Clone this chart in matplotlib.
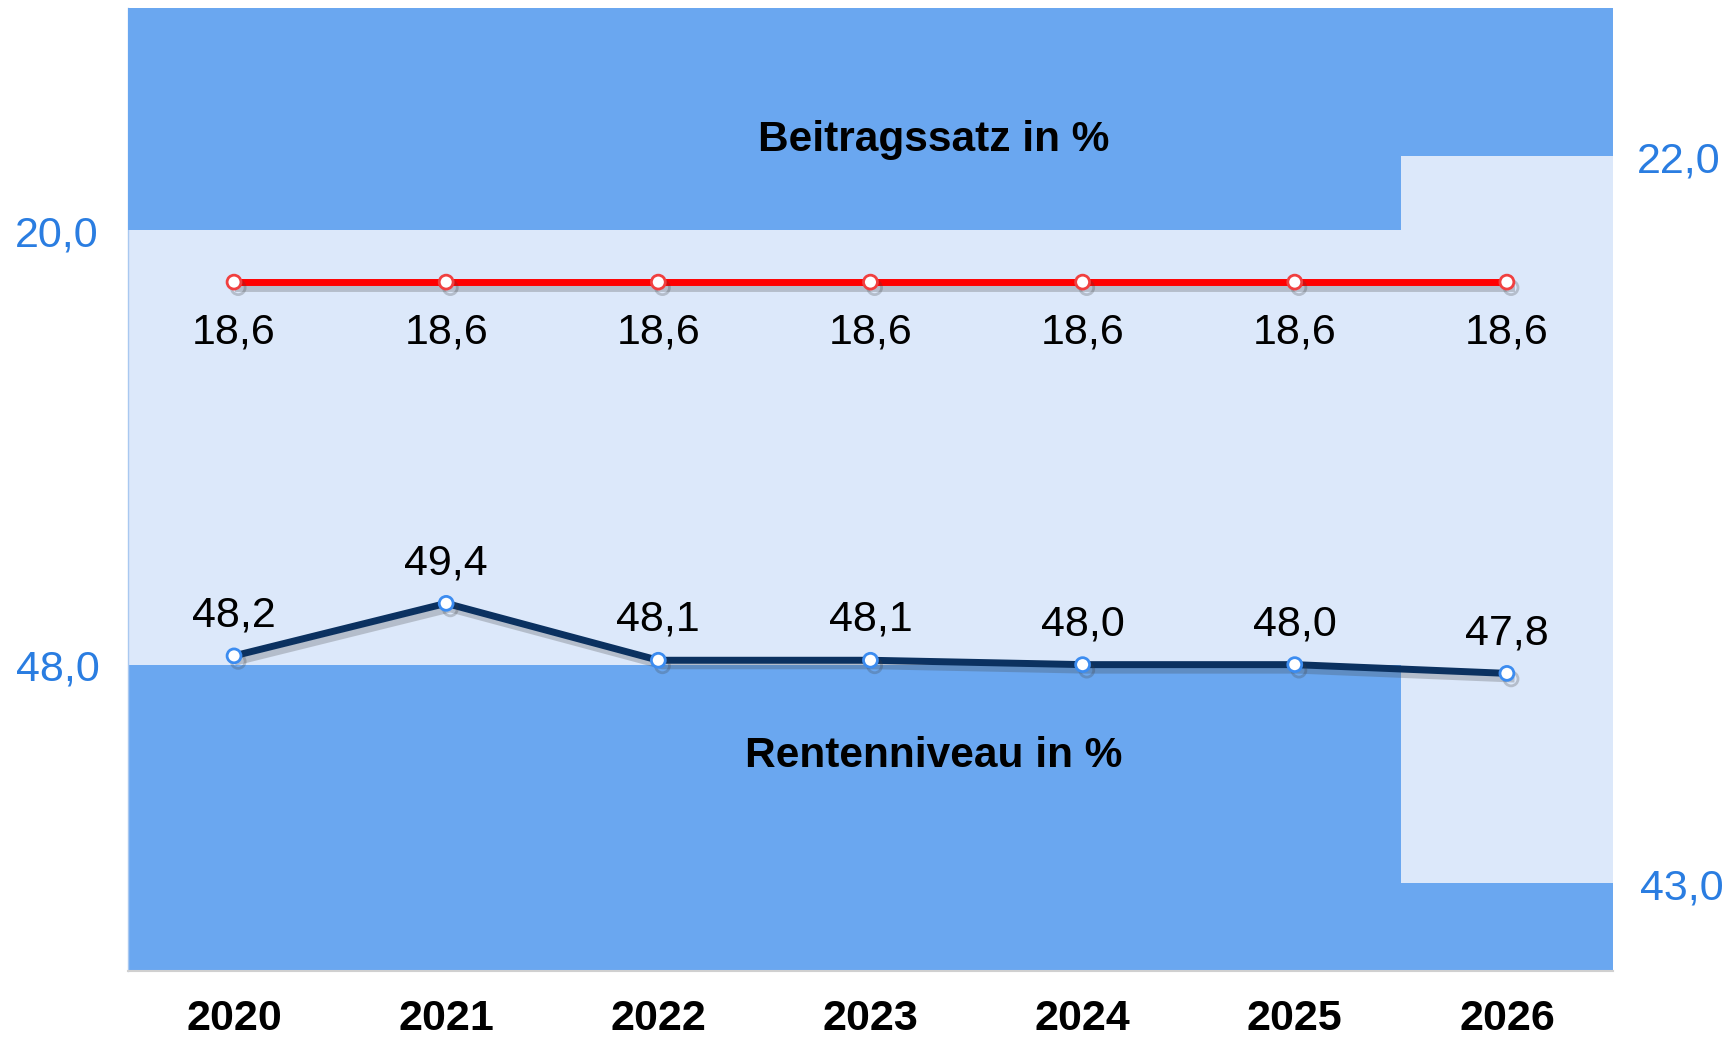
import matplotlib.pyplot as plt
import matplotlib.patheffects as pe
import matplotlib.transforms as mtransforms
import numpy as np

plt.rcParams['font.family'] = ['Liberation Sans', 'DejaVu Sans']

# Daten
jahre = ['2020', '2021', '2022', '2023', '2024', '2025', '2026']
beitragssatz = [18.6, 18.6, 18.6, 18.6, 18.6, 18.6, 18.6]
rentenniveau = [48.2, 49.4, 48.1, 48.1, 48.0, 48.0, 47.8]
# Haltelinien (Obergrenze Beitragssatz, Untergrenze Rentenniveau)
beitrag_grenze = [20.0, 20.0, 20.0, 20.0, 20.0, 20.0, 22.0]
renten_grenze = [48.0, 48.0, 48.0, 48.0, 48.0, 48.0, 43.0]

dunkel = '#6AA7F0'
hell = '#DCE8FA'
blau_text = '#2A7DE1'
navy = '#0B3160'

fig = plt.figure(figsize=(17.29, 10.41), dpi=100)
ax = fig.add_axes([0.074, 0.0672, 0.8589, 0.9251])
ax2 = ax.twinx()

x = np.arange(len(jahre))
ax.set_xlim(-0.5, len(jahre) - 0.5)
ax.set_ylim(41, 63)
ax2.set_ylim(0, 26)
ax.set_facecolor(hell)

# Baender
r_unten = 41
b_oben = 26
ax.bar(x, np.array(renten_grenze) - r_unten, bottom=r_unten, width=1.0, color=dunkel, zorder=1)
ax2.bar(x, b_oben - np.array(beitrag_grenze), bottom=beitrag_grenze, width=1.0, color=dunkel, zorder=1)

schatten = [pe.SimpleLineShadow(offset=(3, -4), shadow_color='#404040', alpha=0.25), pe.Normal()]

ax.plot(x, rentenniveau, color=navy, lw=5, marker='o', ms=10, mfc='white', mec='#3C8CF0', mew=2,
        zorder=3, path_effects=schatten)
ax2.plot(x, beitragssatz, color='#FF0000', lw=5, marker='o', ms=10, mfc='white', mec='#F04040', mew=2,
         zorder=3, path_effects=schatten)

for xi, v in zip(x, rentenniveau):
    ax.annotate(f'{v:.1f}'.replace('.', ','), (xi, v), xytext=(0, 29), textcoords='offset points',
                ha='center', va='center', fontsize=31, color='black')
for xi, v in zip(x, beitragssatz):
    ax2.annotate(f'{v:.1f}'.replace('.', ','), (xi, v), xytext=(0, -36.5), textcoords='offset points',
                 ha='center', va='center', fontsize=31, color='black')

# Titel in den Baendern
ax2.text(3.3, 22.45, 'Beitragssatz in %', ha='center', va='center', fontsize=30.5, fontweight='bold')
ax.text(3.3, 45.92, 'Rentenniveau in %', ha='center', va='center', fontsize=30.5, fontweight='bold')

# Grenzwerte als Beschriftung
versatz = mtransforms.ScaledTranslation(0, -5 / 100, fig.dpi_scale_trans)
t1 = mtransforms.blended_transform_factory(ax.transAxes, ax.transData) + versatz
t2 = mtransforms.blended_transform_factory(ax.transAxes, ax2.transData) + versatz
ax.text(-0.019, renten_grenze[0], f'{renten_grenze[0]:.1f}'.replace('.', ','), transform=t1,
        ha='right', va='center', fontsize=31, color=blau_text)
ax.text(1.018, renten_grenze[-1], f'{renten_grenze[-1]:.1f}'.replace('.', ','), transform=t1,
        ha='left', va='center', fontsize=31, color=blau_text)
ax2.text(-0.02, beitrag_grenze[0], f'{beitrag_grenze[0]:.1f}'.replace('.', ','), transform=t2,
         ha='right', va='center', fontsize=31, color=blau_text)
ax2.text(1.016, beitrag_grenze[-1], f'{beitrag_grenze[-1]:.1f}'.replace('.', ','), transform=t2,
         ha='left', va='center', fontsize=31, color=blau_text)

ax.set_xticks(x)
ax.set_xticklabels(jahre, fontsize=31, fontweight='bold')
ax.tick_params(axis='x', length=0, pad=20)
ax.set_yticks([])
ax2.set_yticks([])

for a in (ax, ax2):
    for s in a.spines.values():
        s.set_visible(False)
ax.spines['bottom'].set_visible(True)
ax.spines['bottom'].set_color('#D0D0D0')
ax.spines['bottom'].set_linewidth(1.5)
ax.spines['left'].set_visible(True)
ax.spines['left'].set_color('#A9C8F0')
ax.spines['left'].set_linewidth(1)

plt.savefig('out.png', dpi=100)
